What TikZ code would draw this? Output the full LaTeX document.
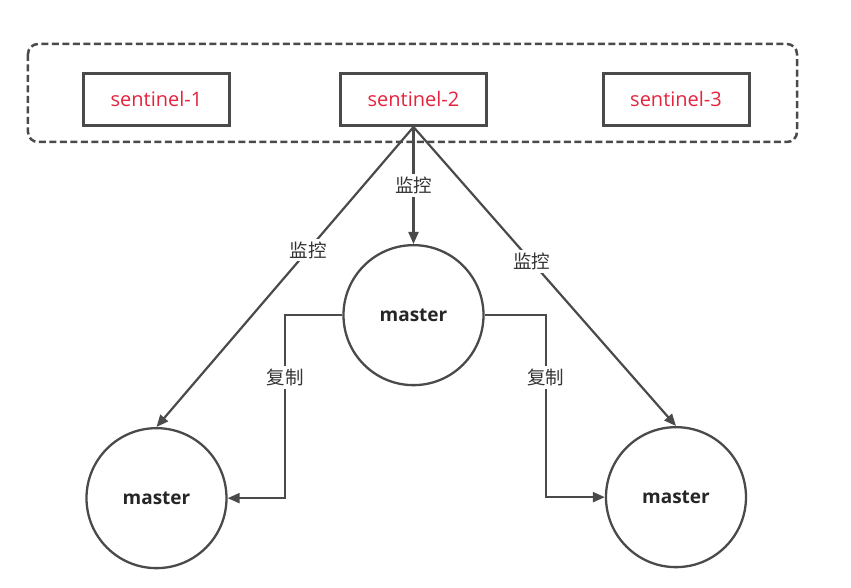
\documentclass[tikz,border=0pt]{standalone}
\usepackage{fontspec}
\setmainfont{Open Sans}
\newfontfamily\cjk{Noto Sans CJK SC}
\usetikzlibrary{arrows.meta,positioning}

\definecolor{linegray}{HTML}{4A4A4A}
\definecolor{sentred}{HTML}{E5233D}

\begin{document}
\begin{tikzpicture}[
  sentinel/.style={draw=linegray, line width=3pt, minimum width=146pt, minimum height=52pt,
    text=sentred, font=\fontsize{20}{23}\selectfont},
  master/.style={draw=linegray, line width=2.3pt, circle, minimum size=140pt, inner sep=0pt,
    font=\fontsize{19}{22}\selectfont\bfseries, text=black!85},
  arr/.style={-{Triangle[length=12pt,width=10pt]}, draw=linegray, line width=2.2pt},
  lbl/.style={fill=white, inner sep=3pt, text=black!80, font=\cjk\fontsize{18.5}{21}\selectfont}
]
\useasboundingbox (-413.5pt,99.5pt) rectangle (437.5pt,-488.5pt);

\node[sentinel] (s2) {sentinel-2};
\node[sentinel, left=108pt of s2] (s1) {sentinel-1};
\node[sentinel, right=113.5pt of s2] (s3) {sentinel-3};

% sentinel group
\draw[linegray, line width=2.5pt, dash pattern=on 7pt off 3.5pt, rounded corners=10pt]
  (-385.5pt,55.5pt) rectangle (383.5pt,-42.5pt);

\node[master, below=117pt of s2] (m0) {master};
\node[master, below=300pt of s1] (m1) {master};
\node[master, below=299pt of s3] (m2) {master};

\draw[arr] (s2.south) -- node[lbl] {监控} (m0.north);
\draw[arr] (s2.south) -- node[lbl, pos=0.41] {监控} (m1.north);
\draw[arr] (s2.south) -- node[lbl, pos=0.45] {监控} (m2.north);

\draw[arr] (m0.west) -- ++(-57pt,0) |- node[lbl, pos=0.17] {复制} (m1.east);
\draw[arr] (m0.east) -- ++(61pt,0) |- node[lbl, pos=0.17] {复制} (m2.west);
\end{tikzpicture}
\end{document}
